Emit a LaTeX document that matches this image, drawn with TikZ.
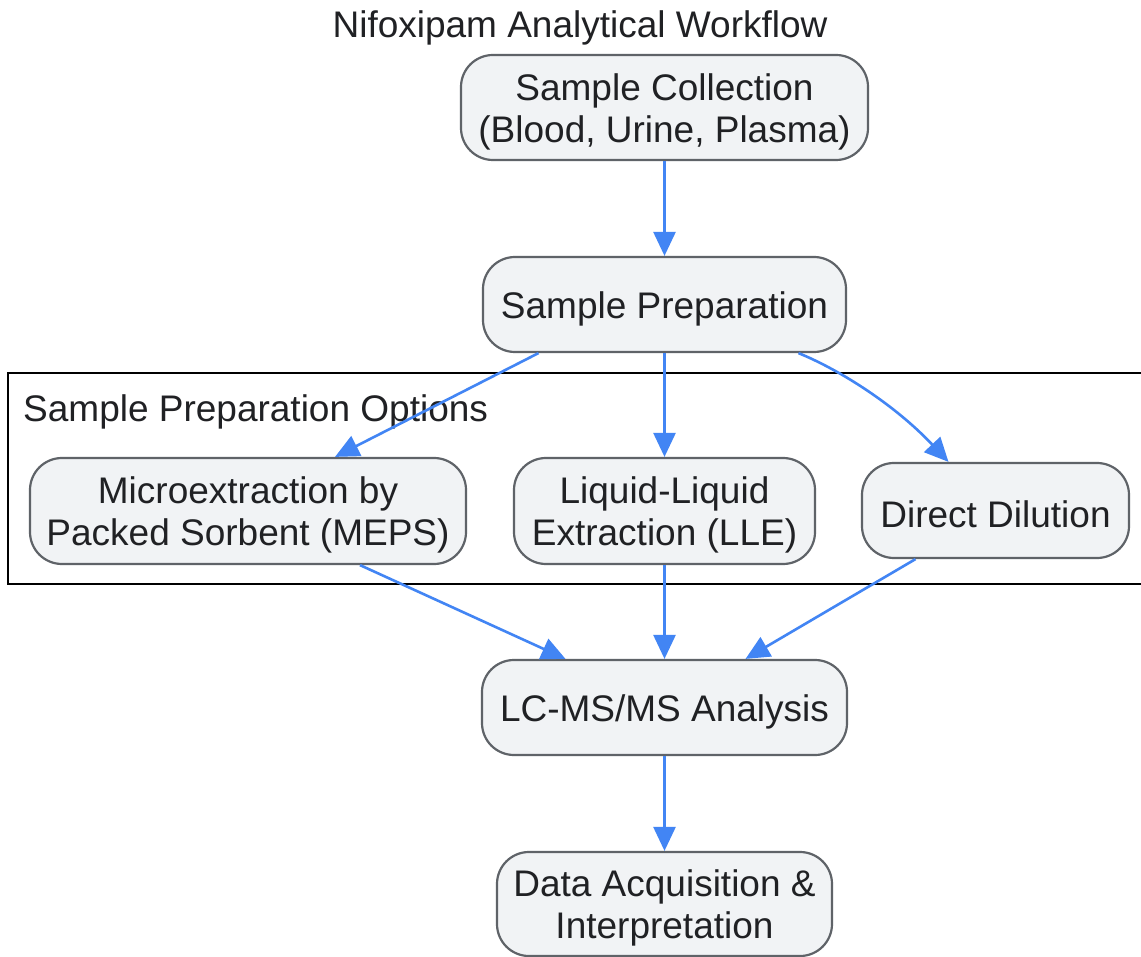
\documentclass[tikz,border=0pt]{standalone}
\usepackage{fontspec}
\setmainfont{Liberation Sans}
\usetikzlibrary{arrows.meta}
\definecolor{edgeblue}{HTML}{4285F4}
\definecolor{nodefill}{HTML}{F1F3F5}
\definecolor{nodeborder}{HTML}{5F6368}
\definecolor{txt}{HTML}{202124}
\tikzset{
  box/.style={draw=nodeborder, fill=nodefill, line width=2.2pt, rounded corners=32pt,
    inner sep=0pt},
  boxtext/.style={inner sep=0pt, align=center, text=txt, font=\fontsize{37}{42}\selectfont},
  conn/.style={draw=edgeblue, line width=2.6pt, -{Triangle[length=24pt,width=22pt]}},
}
\newcommand{\flowbox}[5]{%
  \node[box, minimum width=#2, minimum height=#3] (#1) at (#4) {};
  \node[boxtext] (#1-t) at ([yshift=-4pt]#1.center) {#5};
}
\begin{document}
\begin{tikzpicture}[x=1pt, y=-1pt]
\useasboundingbox (0,0) rectangle (1141,957);
\fill[white] (0,0) rectangle (1141,957);
% cluster
\draw[black, line width=2.2pt] (8,373) rectangle (1160,584);
\node[anchor=west, boxtext] (cl) at (23,412) {Sample Preparation Options};
% title
\node[boxtext] (title) at (580,28) {Nifoxipam Analytical Workflow};
% nodes
\flowbox{sc}{407pt}{105pt}{664.5,107.5}{Sample Collection\\(Blood, Urine, Plasma)}
\flowbox{sp}{363pt}{95pt}{664.5,304.5}{Sample Preparation}
\flowbox{meps}{436pt}{106pt}{248,511}{Microextraction by\\Packed Sorbent (MEPS)}
\flowbox{lle}{301pt}{106pt}{664.5,511}{Liquid-Liquid\\Extraction (LLE)}
\flowbox{dd}{267pt}{95pt}{995.5,510.5}{Direct Dilution}
\flowbox{lc}{365pt}{95pt}{664.5,707.5}{LC-MS/MS Analysis}
\flowbox{da}{335pt}{104pt}{664.5,904}{Data Acquisition \&\\Interpretation}
% edges
\draw[conn] (sc.south) -- (sp.north);
\draw[conn] ([xshift=-126pt]sp.south) -- ([xshift=87pt]meps.north);
\draw[conn] (sp.south) -- (lle.north);
\draw[conn] ([xshift=134pt]sp.south) .. controls (840,370) and (895,405) .. ([xshift=-47pt]dd.north);
\draw[conn] ([xshift=112pt]meps.south) -- ([xshift=-99pt]lc.north);
\draw[conn] (lle.south) -- (lc.north);
\draw[conn] ([xshift=-80pt]dd.south) -- ([xshift=81pt]lc.north);
\draw[conn] (lc.south) -- (da.north);
\end{tikzpicture}
\end{document}
